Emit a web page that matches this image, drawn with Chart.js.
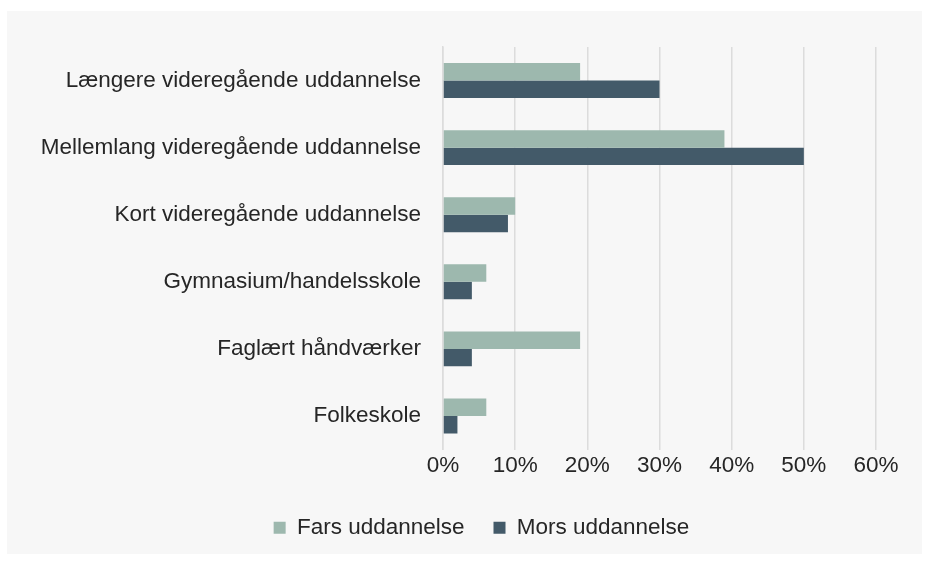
<!DOCTYPE html>
<html>
<head>
<meta charset="utf-8">
<script src="https://cdn.jsdelivr.net/npm/chart.js@4"></script>
<style>
  html, body { margin: 0; padding: 0; background: #ffffff; }
  #wrap { position: absolute; left: 7px; top: 11px; width: 915px; height: 543px; background: #f7f7f7; }
</style>
</head>
<body>
<div id="wrap"><canvas id="myChart" width="915" height="543"></canvas></div>
<script>
// uddannelse categories (top to bottom)
const categories = [
  'Længere videregående uddannelse',
  'Mellemlang videregående uddannelse',
  'Kort videregående uddannelse',
  'Gymnasium/handelsskole',
  'Faglært håndværker',
  'Folkeskole'
];
const farsValues = [19, 39, 10, 6, 19, 6];
const morsValues = [30, 50, 9, 4, 4, 2];
const xTickMax = 60;
const xTickStep = 10;

const textColor = '#262626';
const font = { family: '"Liberation Sans", Arial, Helvetica, sans-serif', size: 22.5 };

// legend sits a bit right of centre in the original
const legendShift = {
  id: 'legendShift',
  afterLayout(chart) {
    chart.legend.left += 40;
    chart.legend.right += 40;
  }
};

const ctx = document.getElementById('myChart').getContext('2d');
const myChart = new Chart(ctx, {
  type: 'bar',
  data: {
    labels: categories,
    datasets: [{
      label: 'Fars uddannelse',
      data: farsValues,
      backgroundColor: '#9db8ae',
      categoryPercentage: 0.52,
      barPercentage: 1.0
    }, {
      label: 'Mors uddannelse',
      data: morsValues,
      backgroundColor: '#435a69',
      categoryPercentage: 0.52,
      barPercentage: 1.0
    }]
  },
  options: {
    indexAxis: 'y',
    responsive: false,
    animation: false,
    layout: { padding: { top: 36, right: 46, bottom: 5, left: 0 } },
    scales: {
      x: {
        min: 0,
        max: xTickMax,
        ticks: {
          stepSize: xTickStep,
          color: textColor,
          font: font,
          padding: 3,
          callback: (v) => v + '%'
        },
        grid: { color: '#dcdcdc', lineWidth: 1.5, drawTicks: false },
        border: { display: false },
        afterFit: (scale) => { scale.height = 38; }
      },
      y: {
        ticks: { color: textColor, font: font, padding: 22 },
        grid: { display: false, drawTicks: false },
        border: { display: true, color: '#dcdcdc', width: 1.5 },
        afterFit: (scale) => { scale.width = 436; }
      }
    },
    plugins: {
      legend: {
        position: 'bottom',
        labels: { color: textColor, font: font, boxWidth: 12, boxHeight: 12, padding: 29 }
      },
      tooltip: { enabled: false }
    }
  },
  plugins: [legendShift]
});
</script>
</body>
</html>
